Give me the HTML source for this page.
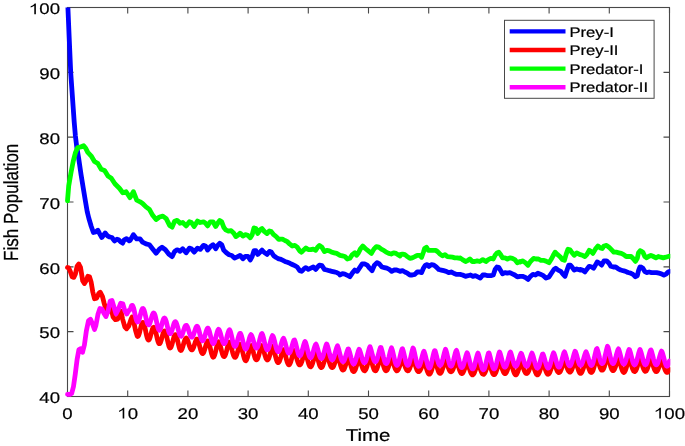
<!DOCTYPE html>
<html><head><meta charset="utf-8"><style>
html,body{margin:0;padding:0;background:#fff;width:685px;height:446px;overflow:hidden;font-family:"Liberation Sans",sans-serif;}
svg{display:block;will-change:transform;}
</style></head><body>
<svg width="685" height="446" viewBox="0 0 685 446">
<rect width="685" height="446" fill="#fff"/>
<path d="M67.50,396.5 v-6 M67.50,7.5 v6 M127.70,396.5 v-6 M127.70,7.5 v6 M187.90,396.5 v-6 M187.90,7.5 v6 M248.10,396.5 v-6 M248.10,7.5 v6 M308.30,396.5 v-6 M308.30,7.5 v6 M368.50,396.5 v-6 M368.50,7.5 v6 M428.70,396.5 v-6 M428.70,7.5 v6 M488.90,396.5 v-6 M488.90,7.5 v6 M549.10,396.5 v-6 M549.10,7.5 v6 M609.30,396.5 v-6 M609.30,7.5 v6 M669.50,396.5 v-6 M669.50,7.5 v6 M67.5,396.50 h6 M669.5,396.50 h-6 M67.5,331.67 h6 M669.5,331.67 h-6 M67.5,266.83 h6 M669.5,266.83 h-6 M67.5,202.00 h6 M669.5,202.00 h-6 M67.5,137.17 h6 M669.5,137.17 h-6 M67.5,72.33 h6 M669.5,72.33 h-6 M67.5,7.50 h6 M669.5,7.50 h-6" stroke="#484848" stroke-width="1.1" fill="none"/>
<rect x="67.5" y="7.5" width="602.0" height="389.0" fill="none" stroke="#484848" stroke-width="1.1"/>
<defs><clipPath id="c"><rect x="0" y="7.5" width="670.3" height="440"/></clipPath></defs>
<g clip-path="url(#c)" fill="none" stroke-linejoin="round" stroke-linecap="round">
<path d="M67.9,7.5 L69.2,37.8 L70.7,72.4 L73.0,105.0 L74.2,122.0 L75.4,136.0 L76.7,146.5 L78.8,159.1 L81.1,174.8 L83.3,188.3 L85.5,201.7 L87.2,211.7 L88.9,218.5 L91.2,226.3 L93.4,232.5 L95.7,231.9 L97.9,230.2 L99.6,233.6 L101.8,237.5 L103.5,235.3 L105.2,233.0 L107.4,235.8 L109.7,237.0 L111.9,237.5 L114.4,240.9 L117.0,239.2 L118.6,239.8 L120.9,242.0 L122.6,243.1 L124.2,239.8 L126.5,238.6 L129.3,240.9 L130.0,240.6 L133.4,234.7 L136.7,238.9 L140.1,238.9 L142.6,242.2 L146.0,243.9 L149.4,244.8 L152.7,249.0 L156.1,253.2 L159.5,249.0 L162.0,247.3 L165.4,249.8 L168.7,254.0 L172.1,256.6 L174.6,251.5 L177.1,249.8 L179.9,250.7 L180.0,251.4 L182.7,248.7 L186.1,252.8 L189.4,248.1 L191.4,248.7 L194.1,252.1 L197.5,248.1 L200.2,249.4 L203.5,245.4 L205.6,246.0 L207.6,250.1 L210.3,246.7 L213.0,244.7 L215.7,248.7 L217.7,245.4 L219.7,243.3 L221.7,244.7 L223.7,250.1 L226.4,252.8 L229.1,254.8 L231.8,255.5 L234.5,258.1 L237.2,256.8 L240.0,255.5 L240.5,255.7 L242.9,258.8 L245.4,256.3 L247.9,256.3 L250.3,260.0 L252.2,256.3 L254.0,250.7 L255.9,250.7 L257.7,254.4 L260.2,252.0 L262.0,250.1 L264.5,252.6 L267.0,254.4 L269.4,251.4 L271.3,252.0 L273.7,255.7 L276.2,257.5 L278.7,258.9 L279.9,259.0 L280.0,259.0 L282.5,260.2 L284.9,261.4 L287.4,262.3 L289.9,263.3 L292.3,264.5 L294.8,265.7 L297.2,267.0 L299.7,270.7 L301.6,271.3 L304.0,268.8 L305.9,267.6 L308.3,269.4 L310.8,268.2 L313.3,267.0 L315.7,269.4 L317.6,267.0 L319.4,265.1 L321.9,265.7 L324.4,269.4 L326.8,270.0 L329.3,270.7 L331.7,271.3 L334.2,271.9 L336.7,272.5 L340.0,274.4 L340.1,275.0 L342.5,273.7 L344.9,274.1 L347.4,275.3 L349.9,276.8 L352.3,273.1 L354.8,270.0 L357.2,271.3 L359.7,267.6 L362.2,263.9 L364.6,263.9 L367.1,265.1 L369.6,268.2 L372.0,270.7 L374.5,265.1 L377.0,262.6 L379.4,263.9 L381.9,267.0 L384.4,267.6 L386.8,268.2 L389.3,269.4 L391.7,271.3 L394.2,270.0 L396.7,270.0 L400.0,271.3 L400.1,271.3 L402.5,270.7 L404.9,272.0 L407.4,273.2 L409.9,275.0 L412.3,275.0 L414.8,274.4 L417.2,272.0 L419.7,272.0 L421.6,272.6 L423.4,268.3 L425.3,265.2 L427.1,264.6 L429.0,266.4 L431.4,264.6 L433.9,265.2 L436.3,267.0 L438.8,269.5 L441.3,270.1 L443.7,270.7 L446.2,271.3 L448.7,272.6 L451.1,272.0 L453.6,273.2 L456.7,274.4 L460.0,274.4 L460.1,274.4 L462.5,275.0 L465.5,276.3 L468.0,275.7 L470.5,275.0 L472.9,276.3 L475.4,275.7 L477.9,276.9 L480.3,278.1 L482.8,275.0 L485.3,275.0 L487.7,275.7 L490.8,275.7 L493.3,275.0 L495.1,269.5 L497.0,267.0 L498.8,267.3 L500.7,270.7 L502.5,273.8 L505.0,272.6 L507.4,273.2 L509.9,272.6 L512.4,273.8 L514.8,275.0 L517.3,276.9 L520.0,276.3 L520.1,276.3 L522.5,276.3 L525.5,277.5 L528.0,279.4 L530.5,276.3 L532.9,274.4 L535.4,275.0 L537.9,273.2 L540.3,274.2 L543.4,275.7 L545.9,278.1 L549.0,276.9 L551.4,273.2 L553.9,269.5 L555.7,268.3 L558.2,270.1 L560.7,271.3 L563.1,274.4 L565.0,276.3 L566.8,270.7 L568.7,265.2 L570.5,265.2 L572.4,267.6 L574.2,270.1 L576.7,268.9 L580.0,270.1 L580.1,269.4 L582.5,270.0 L584.9,271.9 L586.8,269.4 L589.2,266.3 L591.7,267.0 L593.6,268.2 L595.4,265.1 L597.2,262.0 L599.7,263.3 L601.6,265.1 L604.0,260.8 L606.5,260.8 L609.0,263.3 L610.8,266.3 L613.3,267.0 L615.7,267.0 L618.2,268.8 L620.7,270.0 L623.1,270.7 L625.6,271.3 L628.0,272.5 L630.5,273.1 L633.0,274.4 L635.4,276.8 L637.3,275.6 L638.5,270.7 L640.0,267.0 L640.1,267.2 L641.0,267.0 L642.9,268.3 L644.8,271.4 L646.6,272.6 L649.1,272.0 L651.5,272.6 L654.0,272.6 L656.5,272.6 L659.0,273.2 L661.4,273.8 L663.9,275.1 L666.4,273.8 L668.2,272.0 L669.6,271.4" stroke="#0000ff" stroke-width="4.8"/>
<path d="M67.5,267.5 L68.7,267.9 L70.4,271.8 L72.1,276.8 L73.8,277.4 L75.4,274.0 L77.1,266.2 L78.8,264.0 L80.5,267.3 L81.6,274.0 L82.7,280.8 L84.4,283.6 L86.1,280.8 L87.8,276.3 L89.5,276.8 L91.1,281.9 L92.8,292.0 L94.5,298.7 L96.7,298.1 L99.0,293.1 L100.2,292.2 L102.5,296.7 L104.2,303.4 L105.8,309.0 L107.5,312.0 L109.5,310.0 L111.0,308.0 L113.1,316.9 L115.4,319.7 L117.6,319.1 L119.8,314.6 L121.0,311.3 L122.6,319.1 L124.9,327.0 L126.6,328.7 L128.8,326.0 L131.1,319.1 L132.2,316.9 L133.9,322.5 L135.5,330.3 L137.2,336.0 L137.7,336.5 L138.2,336.2 L138.7,335.3 L139.2,333.8 L139.7,331.9 L140.2,329.8 L140.7,327.7 L141.2,325.7 L141.7,324.1 L142.2,322.9 L142.7,322.4 L143.2,322.5 L143.7,323.3 L144.2,324.7 L144.7,326.6 L145.2,328.8 L145.7,331.3 L146.2,333.7 L146.7,335.9 L147.2,337.8 L147.7,339.2 L148.2,339.9 L148.7,340.1 L149.2,339.6 L149.7,338.5 L150.2,337.0 L150.7,335.2 L151.2,333.3 L151.7,331.4 L152.2,329.7 L152.7,328.4 L153.2,327.6 L153.7,327.3 L154.2,327.6 L154.7,328.5 L155.2,330.0 L155.7,331.9 L156.2,334.0 L156.7,336.3 L157.2,338.5 L157.7,340.5 L158.2,342.1 L158.7,343.2 L159.2,343.7 L159.7,343.6 L160.2,343.0 L160.7,341.8 L161.2,340.3 L161.7,338.4 L162.2,336.5 L162.7,334.6 L163.2,333.0 L163.7,331.8 L164.2,331.1 L164.7,330.9 L165.2,331.6 L165.7,332.8 L166.2,334.5 L166.7,336.6 L167.2,338.9 L167.7,341.3 L168.2,343.5 L168.7,345.4 L169.2,346.9 L169.7,347.8 L170.2,348.0 L170.7,347.7 L171.2,346.7 L171.7,345.3 L172.2,343.5 L172.7,341.6 L173.2,339.6 L173.7,337.8 L174.2,336.3 L174.7,335.2 L175.2,334.6 L175.7,334.8 L176.2,335.7 L176.7,337.1 L177.2,339.0 L177.7,341.1 L178.2,343.3 L178.7,345.5 L179.2,347.4 L179.7,349.0 L180.2,350.1 L180.7,350.5 L181.2,350.4 L181.7,349.7 L182.2,348.5 L182.7,347.0 L183.2,345.3 L183.7,343.5 L184.2,341.8 L184.7,340.4 L185.2,339.2 L185.7,338.4 L186.2,338.0 L186.7,338.4 L187.2,339.2 L187.7,340.5 L188.2,341.9 L188.7,343.6 L189.2,345.2 L189.7,346.7 L190.2,348.0 L190.7,348.9 L191.2,349.6 L191.7,349.9 L192.2,349.8 L192.7,349.3 L193.2,348.3 L193.7,347.1 L194.2,345.6 L194.7,344.0 L195.2,342.4 L195.7,341.0 L196.2,339.9 L196.7,339.2 L197.2,339.1 L197.7,339.8 L198.2,341.0 L198.7,342.5 L199.2,344.4 L199.7,346.3 L200.2,348.2 L200.7,350.0 L201.2,351.6 L201.7,352.7 L202.2,353.4 L202.7,353.6 L203.2,353.2 L203.7,352.4 L204.2,351.1 L204.7,349.5 L205.2,347.8 L205.7,346.0 L206.2,344.3 L206.7,342.8 L207.2,341.6 L207.7,340.9 L208.2,341.2 L208.7,342.3 L209.2,343.8 L209.7,345.7 L210.2,347.8 L210.7,350.0 L211.2,352.1 L211.7,354.1 L212.2,355.6 L212.7,356.7 L213.2,357.2 L213.7,356.9 L214.2,356.1 L214.7,354.8 L215.2,353.0 L215.7,351.1 L216.2,349.0 L216.7,346.9 L217.2,345.1 L217.7,343.5 L218.2,342.4 L218.7,341.7 L219.2,342.6 L219.7,343.8 L220.2,345.5 L220.7,347.3 L221.2,349.4 L221.7,351.4 L222.2,353.2 L222.7,354.7 L223.2,355.8 L223.7,356.5 L224.2,356.6 L224.7,356.2 L225.2,355.3 L225.7,353.9 L226.2,352.2 L226.7,350.3 L227.2,348.3 L227.7,346.4 L228.2,344.6 L228.7,343.1 L229.2,342.1 L229.7,342.2 L230.2,343.3 L230.7,344.9 L231.2,346.7 L231.7,348.7 L232.2,350.8 L232.7,352.7 L233.2,354.4 L233.7,355.8 L234.2,356.7 L234.7,357.2 L235.2,357.3 L235.7,356.9 L236.2,356.0 L236.7,354.7 L237.2,353.1 L237.7,351.3 L238.2,349.6 L238.7,347.8 L239.2,346.3 L239.7,345.2 L240.2,344.3 L240.7,345.1 L241.2,346.4 L241.7,348.1 L242.2,350.1 L242.7,352.2 L243.2,354.3 L243.7,356.4 L244.2,358.1 L244.7,359.5 L245.2,360.5 L245.7,360.8 L246.2,360.4 L246.7,359.5 L247.2,358.2 L247.7,356.5 L248.2,354.6 L248.7,352.5 L249.2,350.5 L249.7,348.7 L250.2,347.1 L250.7,345.9 L251.2,345.5 L251.7,346.6 L252.2,348.0 L252.7,349.8 L253.2,351.6 L253.7,353.6 L254.2,355.4 L254.7,357.1 L255.2,358.5 L255.7,359.4 L256.2,359.9 L256.7,359.9 L257.2,359.4 L257.7,358.4 L258.2,357.1 L258.7,355.5 L259.2,353.6 L259.7,351.7 L260.2,349.9 L260.7,348.2 L261.2,346.7 L261.7,345.6 L262.2,345.9 L262.7,347.2 L263.2,348.8 L263.7,350.6 L264.2,352.5 L264.7,354.4 L265.2,356.1 L265.7,357.6 L266.2,358.8 L266.7,359.6 L267.2,360.0 L267.7,359.9 L268.2,359.4 L268.7,358.5 L269.2,357.1 L269.7,355.5 L270.2,353.8 L270.7,351.9 L271.2,350.2 L271.7,348.5 L272.2,347.2 L272.7,346.2 L273.2,347.4 L273.7,349.0 L274.2,350.9 L274.7,353.0 L275.2,355.1 L275.7,357.1 L276.2,359.0 L276.7,360.6 L277.2,361.7 L277.7,362.5 L278.2,362.7 L278.7,362.4 L279.2,361.7 L279.7,360.6 L280.2,359.1 L280.7,357.5 L281.2,355.7 L281.7,353.9 L282.2,352.2 L282.7,350.8 L283.2,349.6 L283.7,349.6 L284.2,350.9 L284.7,352.6 L285.2,354.4 L285.7,356.4 L286.2,358.4 L286.7,360.3 L287.2,362.0 L287.7,363.3 L288.2,364.3 L288.7,364.8 L289.2,364.8 L289.7,364.3 L290.2,363.3 L290.7,362.0 L291.2,360.3 L291.7,358.5 L292.2,356.7 L292.7,354.9 L293.2,353.2 L293.7,351.7 L294.2,350.5 L294.7,351.3 L295.2,352.8 L295.7,354.5 L296.2,356.3 L296.7,358.2 L297.2,360.0 L297.7,361.6 L298.2,363.0 L298.7,364.1 L299.2,364.7 L299.7,364.9 L300.2,364.8 L300.7,364.2 L301.2,363.2 L301.7,361.9 L302.2,360.4 L302.7,358.7 L303.2,356.9 L303.7,355.2 L304.2,353.6 L304.7,352.1 L305.2,351.5 L305.7,352.9 L306.2,354.5 L306.7,356.4 L307.2,358.3 L307.7,360.3 L308.2,362.1 L308.7,363.8 L309.2,365.1 L309.7,366.1 L310.2,366.7 L310.7,366.8 L311.2,366.4 L311.7,365.6 L312.2,364.4 L312.7,362.9 L313.2,361.2 L313.7,359.4 L314.2,357.5 L314.7,355.7 L315.2,354.0 L315.7,352.6 L316.2,353.0 L316.7,354.6 L317.2,356.4 L317.7,358.3 L318.2,360.2 L318.7,362.1 L319.2,363.9 L319.7,365.4 L320.2,366.5 L320.7,367.3 L321.2,367.6 L321.7,367.5 L322.2,366.9 L322.7,365.9 L323.2,364.6 L323.7,363.1 L324.2,361.3 L324.7,359.5 L325.2,357.7 L325.7,356.0 L326.2,354.4 L326.7,353.0 L327.2,354.5 L327.7,356.1 L328.2,357.9 L328.7,359.8 L329.2,361.6 L329.7,363.3 L330.2,364.8 L330.7,366.0 L331.2,366.9 L331.7,367.5 L332.2,367.6 L332.7,367.5 L333.2,366.9 L333.7,366.0 L334.2,364.7 L334.7,363.2 L335.2,361.6 L335.7,359.8 L336.2,358.1 L336.7,356.4 L337.2,354.8 L337.7,354.5 L338.2,356.2 L338.7,358.1 L339.2,360.1 L339.7,362.1 L340.2,364.0 L340.7,365.8 L341.2,367.4 L341.7,368.6 L342.2,369.5 L342.7,370.0 L343.2,370.0 L343.7,369.7 L344.2,368.9 L344.7,367.8 L345.2,366.4 L345.7,364.7 L346.2,363.0 L346.7,361.1 L347.2,359.3 L347.7,357.6 L348.2,356.0 L348.7,357.1 L349.2,358.9 L349.7,360.9 L350.2,362.9 L350.7,364.8 L351.2,366.7 L351.7,368.4 L352.2,369.8 L352.7,370.9 L353.2,371.4 L353.7,371.6 L354.2,371.4 L354.7,370.7 L355.2,369.8 L355.7,368.5 L356.2,366.9 L356.7,365.3 L357.2,363.5 L357.7,361.8 L358.2,360.1 L358.7,358.5 L359.2,357.5 L359.7,358.9 L360.2,360.5 L360.7,362.2 L361.2,363.9 L361.7,365.6 L362.2,367.1 L362.7,368.5 L363.2,369.5 L363.7,370.3 L364.2,370.7 L364.7,370.8 L365.2,370.4 L365.7,369.7 L366.2,368.6 L366.7,367.2 L367.2,365.5 L367.7,363.7 L368.2,361.8 L368.7,359.8 L369.2,357.9 L369.7,356.1 L370.2,356.2 L370.7,358.0 L371.2,360.0 L371.7,361.9 L372.2,363.8 L372.7,365.7 L373.2,367.3 L373.7,368.7 L374.2,369.8 L374.7,370.5 L375.2,370.8 L375.7,370.7 L376.2,370.2 L376.7,369.3 L377.2,368.1 L377.7,366.6 L378.2,364.9 L378.7,363.1 L379.2,361.3 L379.7,359.5 L380.2,357.8 L380.7,356.2 L381.2,357.7 L381.7,359.5 L382.2,361.3 L382.7,363.2 L383.2,364.9 L383.7,366.6 L384.2,368.1 L384.7,369.3 L385.2,370.1 L385.7,370.7 L386.2,370.8 L386.7,370.5 L387.2,369.9 L387.7,368.9 L388.2,367.7 L388.7,366.2 L389.2,364.6 L389.7,362.9 L390.2,361.2 L390.7,359.5 L391.2,358.0 L391.7,357.6 L392.2,359.2 L392.7,360.8 L393.2,362.6 L393.7,364.3 L394.2,365.9 L394.7,367.4 L395.2,368.7 L395.7,369.7 L396.2,370.4 L396.7,370.8 L397.2,370.7 L397.7,370.4 L398.2,369.7 L398.7,368.6 L399.2,367.4 L399.7,365.9 L400.2,364.4 L400.7,362.8 L401.2,361.2 L401.7,359.7 L402.2,358.3 L402.7,359.0 L403.2,360.5 L403.7,362.1 L404.2,363.7 L404.7,365.3 L405.2,366.8 L405.7,368.1 L406.2,369.2 L406.7,370.1 L407.2,370.6 L407.7,370.8 L408.2,370.7 L408.7,370.2 L409.2,369.4 L409.7,368.4 L410.2,367.0 L410.7,365.6 L411.2,364.0 L411.7,362.3 L412.2,360.7 L412.7,359.2 L413.2,358.2 L413.7,359.7 L414.2,361.4 L414.7,363.1 L415.2,364.9 L415.7,366.5 L416.2,368.0 L416.7,369.3 L417.2,370.4 L417.7,371.1 L418.2,371.6 L418.7,371.7 L419.2,371.5 L419.7,371.1 L420.2,370.3 L420.7,369.3 L421.2,368.1 L421.7,366.7 L422.2,365.3 L422.7,363.9 L423.2,362.5 L423.7,361.2 L424.2,361.4 L424.7,362.8 L425.2,364.3 L425.7,365.9 L426.2,367.6 L426.7,369.2 L427.2,370.8 L427.7,372.1 L428.2,373.2 L428.7,374.0 L429.2,374.2 L429.7,374.1 L430.2,373.6 L430.7,372.7 L431.2,371.5 L431.7,370.0 L432.2,368.2 L432.7,366.4 L433.2,364.4 L433.7,362.5 L434.2,360.7 L434.7,359.0 L435.2,360.4 L435.7,362.1 L436.2,364.0 L436.7,365.8 L437.2,367.6 L437.7,369.3 L438.2,370.8 L438.7,372.0 L439.2,372.9 L439.7,373.4 L440.2,373.4 L440.7,373.1 L441.2,372.4 L441.7,371.4 L442.2,370.0 L442.7,368.5 L443.2,366.8 L443.7,365.0 L444.2,363.2 L444.7,361.5 L445.2,359.9 L445.7,359.4 L446.2,360.9 L446.7,362.5 L447.2,364.2 L447.7,365.8 L448.2,367.4 L448.7,368.7 L449.2,369.9 L449.7,370.8 L450.2,371.4 L450.7,371.7 L451.2,371.8 L451.7,371.5 L452.2,370.9 L452.7,370.0 L453.2,368.9 L453.7,367.5 L454.2,366.1 L454.7,364.5 L455.2,363.0 L455.7,361.5 L456.2,360.1 L456.7,360.8 L457.2,362.3 L457.7,364.0 L458.2,365.7 L458.7,367.4 L459.2,369.0 L459.7,370.4 L460.2,371.7 L460.7,372.6 L461.2,373.3 L461.7,373.5 L462.2,373.5 L462.7,373.0 L463.2,372.3 L463.7,371.3 L464.2,370.0 L464.7,368.6 L465.2,367.1 L465.7,365.6 L466.2,364.1 L466.7,362.7 L467.2,361.7 L467.7,363.1 L468.2,364.7 L468.7,366.3 L469.2,368.0 L469.7,369.6 L470.2,371.1 L470.7,372.4 L471.2,373.5 L471.7,374.3 L472.2,374.8 L472.7,374.9 L473.2,374.5 L473.7,373.9 L474.2,373.0 L474.7,371.8 L475.2,370.4 L475.7,369.0 L476.2,367.4 L476.7,365.9 L477.2,364.4 L477.7,363.1 L478.2,363.1 L478.7,364.4 L479.2,365.9 L479.7,367.4 L480.2,368.8 L480.7,370.2 L481.2,371.5 L481.7,372.6 L482.2,373.5 L482.7,374.0 L483.2,374.3 L483.7,374.3 L484.2,373.9 L484.7,373.2 L485.2,372.2 L485.7,371.0 L486.2,369.6 L486.7,368.0 L487.2,366.4 L487.7,364.8 L488.2,363.2 L488.7,361.8 L489.2,362.8 L489.7,364.3 L490.2,365.9 L490.7,367.6 L491.2,369.2 L491.7,370.8 L492.2,372.2 L492.7,373.4 L493.2,374.2 L493.7,374.6 L494.2,374.7 L494.7,374.4 L495.2,373.8 L495.7,372.8 L496.2,371.6 L496.7,370.1 L497.2,368.5 L497.7,366.8 L498.2,365.0 L498.7,363.4 L499.2,361.8 L499.7,361.1 L500.2,362.5 L500.7,364.1 L501.2,365.7 L501.7,367.3 L502.2,368.8 L502.7,370.2 L503.2,371.4 L503.7,372.4 L504.2,373.2 L504.7,373.6 L505.2,373.7 L505.7,373.4 L506.2,372.7 L506.7,371.7 L507.2,370.5 L507.7,369.0 L508.2,367.4 L508.7,365.7 L509.2,363.9 L509.7,362.3 L510.2,360.7 L510.7,361.2 L511.2,362.9 L511.7,364.7 L512.2,366.5 L512.7,368.3 L513.2,370.0 L513.7,371.6 L514.2,372.9 L514.7,373.9 L515.2,374.6 L515.7,374.9 L516.2,374.7 L516.7,374.1 L517.2,373.2 L517.7,372.0 L518.2,370.6 L518.7,369.1 L519.2,367.4 L519.7,365.8 L520.2,364.2 L520.7,362.7 L521.2,361.6 L521.7,363.0 L522.2,364.4 L522.7,366.0 L523.2,367.5 L523.7,369.0 L524.2,370.3 L524.7,371.5 L525.2,372.5 L525.7,373.1 L526.2,373.4 L526.7,373.5 L527.2,373.3 L527.7,372.8 L528.2,372.0 L528.7,370.9 L529.2,369.7 L529.7,368.2 L530.2,366.7 L530.7,365.2 L531.2,363.7 L531.7,362.2 L532.2,362.1 L532.7,363.6 L533.2,365.2 L533.7,366.8 L534.2,368.5 L534.7,370.0 L535.2,371.5 L535.7,372.8 L536.2,373.8 L536.7,374.5 L537.2,374.9 L537.7,374.8 L538.2,374.4 L538.7,373.6 L539.2,372.5 L539.7,371.3 L540.2,369.8 L540.7,368.2 L541.2,366.6 L541.7,365.0 L542.2,363.5 L542.7,362.2 L543.2,363.1 L543.7,364.5 L544.2,366.1 L544.7,367.6 L545.2,369.1 L545.7,370.6 L546.2,371.8 L546.7,372.9 L547.2,373.7 L547.7,374.2 L548.2,374.3 L548.7,374.0 L549.2,373.4 L549.7,372.5 L550.2,371.3 L550.7,369.9 L551.2,368.4 L551.7,366.8 L552.2,365.2 L552.7,363.6 L553.2,362.1 L553.7,361.4 L554.2,362.7 L554.7,364.1 L555.2,365.6 L555.7,367.1 L556.2,368.5 L556.7,369.8 L557.2,370.9 L557.7,371.7 L558.2,372.3 L558.7,372.6 L559.2,372.5 L559.7,372.2 L560.2,371.6 L560.7,370.6 L561.2,369.5 L561.7,368.1 L562.2,366.6 L562.7,365.1 L563.2,363.5 L563.7,362.1 L564.2,360.7 L564.7,361.0 L565.2,362.3 L565.7,363.8 L566.2,365.2 L566.7,366.7 L567.2,368.1 L567.7,369.4 L568.2,370.4 L568.7,371.2 L569.2,371.8 L569.7,372.1 L570.2,372.1 L570.7,371.7 L571.2,371.0 L571.7,370.0 L572.2,368.7 L572.7,367.3 L573.2,365.7 L573.7,364.1 L574.2,362.4 L574.7,360.8 L575.2,359.4 L575.7,360.9 L576.2,362.6 L576.7,364.3 L577.2,366.1 L577.7,367.8 L578.2,369.4 L578.7,370.9 L579.2,372.1 L579.7,372.9 L580.2,373.3 L580.7,373.4 L581.2,373.1 L581.7,372.4 L582.2,371.4 L582.7,370.2 L583.2,368.8 L583.7,367.2 L584.2,365.6 L584.7,363.9 L585.2,362.4 L585.7,360.9 L586.2,360.7 L586.7,362.1 L587.2,363.5 L587.7,365.0 L588.2,366.5 L588.7,368.0 L589.2,369.4 L589.7,370.6 L590.2,371.6 L590.7,372.2 L591.2,372.5 L591.7,372.4 L592.2,371.9 L592.7,371.0 L593.2,369.8 L593.7,368.2 L594.2,366.5 L594.7,364.6 L595.2,362.6 L595.7,360.7 L596.2,358.8 L596.7,357.0 L597.2,357.8 L597.7,359.4 L598.2,361.2 L598.7,362.9 L599.2,364.6 L599.7,366.2 L600.2,367.7 L600.7,368.8 L601.2,369.7 L601.7,370.2 L602.2,370.2 L602.7,370.0 L603.2,369.4 L603.7,368.5 L604.2,367.2 L604.7,365.6 L605.2,363.8 L605.7,361.9 L606.2,359.9 L606.7,357.9 L607.2,356.0 L607.7,354.8 L608.2,356.7 L608.7,358.7 L609.2,360.7 L609.7,362.8 L610.2,364.7 L610.7,366.5 L611.2,368.0 L611.7,369.3 L612.2,370.1 L612.7,370.6 L613.2,370.7 L613.7,370.4 L614.2,369.7 L614.7,368.7 L615.2,367.4 L615.7,365.9 L616.2,364.3 L616.7,362.6 L617.2,360.9 L617.7,359.2 L618.2,357.7 L618.7,358.1 L619.2,359.8 L619.7,361.6 L620.2,363.4 L620.7,365.3 L621.2,367.1 L621.7,368.8 L622.2,370.2 L622.7,371.3 L623.2,372.1 L623.7,372.5 L624.2,372.3 L624.7,371.8 L625.2,370.8 L625.7,369.6 L626.2,368.0 L626.7,366.3 L627.2,364.5 L627.7,362.6 L628.2,360.8 L628.7,359.1 L629.2,357.5 L629.7,359.1 L630.2,360.8 L630.7,362.5 L631.2,364.3 L631.7,366.1 L632.2,367.7 L632.7,369.1 L633.2,370.2 L633.7,371.1 L634.2,371.5 L634.7,371.6 L635.2,371.3 L635.7,370.7 L636.2,369.7 L636.7,368.5 L637.2,367.0 L637.7,365.4 L638.2,363.7 L638.7,362.0 L639.2,360.3 L639.7,358.8 L640.2,358.4 L640.7,359.9 L641.2,361.6 L641.7,363.3 L642.2,364.9 L642.7,366.6 L643.2,368.0 L643.7,369.3 L644.2,370.3 L644.7,370.9 L645.2,371.3 L645.7,371.2 L646.2,370.9 L646.7,370.1 L647.2,369.1 L647.7,367.8 L648.2,366.3 L648.7,364.7 L649.2,363.0 L649.7,361.3 L650.2,359.7 L650.7,358.2 L651.2,359.1 L651.7,360.7 L652.2,362.4 L652.7,364.1 L653.2,365.8 L653.7,367.4 L654.2,368.8 L654.7,370.0 L655.2,370.8 L655.7,371.4 L656.2,371.6 L656.7,371.5 L657.2,371.0 L657.7,370.2 L658.2,369.1 L658.7,367.9 L659.2,366.4 L659.7,364.9 L660.2,363.3 L660.7,361.8 L661.2,360.4 L661.7,359.5 L662.2,360.9 L662.7,362.4 L663.2,364.0 L663.7,365.7 L664.2,367.3 L664.7,368.8 L665.2,370.1 L665.7,371.1 L666.2,371.9 L666.7,372.3 L667.2,372.4 L667.7,372.2 L668.2,371.5 L668.7,370.6 L669.2,369.3" stroke="#ff0000" stroke-width="4.8"/>
<path d="M67.5,200.8 L68.7,186.0 L71.0,172.6 L73.2,161.4 L75.5,152.4 L77.7,147.5 L81.1,146.8 L83.7,145.7 L85.5,147.9 L87.8,152.4 L91.1,155.8 L94.5,161.4 L97.9,163.6 L101.2,169.2 L104.6,170.4 L108.0,176.0 L111.3,178.2 L114.9,183.8 L119.4,188.3 L122.8,192.8 L126.1,191.7 L130.0,197.6 L133.4,191.7 L136.7,200.2 L140.1,201.8 L142.6,203.5 L146.0,206.9 L149.4,209.4 L152.7,215.3 L156.1,219.5 L159.5,217.0 L162.8,216.1 L166.2,218.7 L169.6,225.4 L172.1,227.1 L174.6,221.2 L177.1,220.4 L179.9,222.9 L180.0,223.2 L182.7,222.5 L186.1,225.9 L189.4,221.8 L191.4,222.5 L194.1,226.5 L197.5,221.1 L200.2,222.5 L203.5,221.8 L205.6,223.2 L207.6,225.9 L210.3,221.8 L213.0,221.8 L215.7,226.5 L217.7,223.2 L219.7,220.5 L221.7,221.8 L223.7,227.2 L225.7,229.9 L228.4,231.2 L231.1,230.6 L233.8,233.3 L235.8,236.6 L237.9,235.3 L240.0,233.3 L240.5,233.5 L242.9,236.0 L245.4,234.7 L247.9,235.3 L250.3,237.8 L252.2,234.7 L254.0,227.9 L255.9,228.6 L257.7,233.5 L260.2,229.8 L262.0,228.6 L264.5,231.6 L267.0,233.5 L269.4,231.0 L271.3,231.6 L273.7,234.7 L276.2,236.6 L278.7,239.3 L279.9,239.3 L280.0,239.2 L282.5,239.2 L284.9,240.5 L287.4,241.7 L289.9,244.2 L292.3,246.0 L294.8,245.4 L297.2,247.2 L299.7,250.9 L301.6,252.2 L304.0,249.7 L305.9,247.9 L308.3,249.7 L310.8,249.7 L313.3,249.1 L315.7,250.3 L317.6,247.2 L319.4,245.4 L321.9,247.2 L324.4,251.6 L326.8,250.3 L329.3,250.9 L331.7,252.2 L334.2,252.8 L336.7,253.4 L340.0,255.3 L340.1,255.3 L342.5,255.9 L344.9,256.5 L347.4,259.0 L349.9,258.3 L352.3,254.6 L354.8,252.8 L356.6,255.3 L358.5,252.8 L360.3,249.1 L362.8,246.0 L365.3,248.5 L368.3,250.9 L371.4,253.4 L373.9,249.1 L376.3,246.6 L378.8,247.2 L381.3,249.1 L383.7,250.3 L386.2,252.2 L388.7,253.4 L391.1,254.0 L393.6,252.8 L396.1,253.4 L400.0,255.9 L400.1,254.7 L402.5,254.1 L404.9,254.7 L407.4,256.6 L409.9,258.4 L412.3,257.8 L414.8,256.6 L417.2,255.3 L419.7,255.3 L421.6,257.2 L423.4,252.2 L424.6,248.6 L426.5,247.3 L428.3,250.4 L430.8,250.4 L433.3,250.4 L435.7,250.4 L437.6,251.6 L440.0,254.1 L442.5,255.9 L445.0,254.7 L447.4,256.6 L449.9,256.9 L452.4,257.2 L454.8,257.8 L457.3,257.8 L460.0,258.4 L460.1,257.8 L462.5,259.6 L465.5,261.5 L468.0,260.3 L469.9,259.0 L472.3,261.5 L474.8,261.5 L477.2,260.9 L479.7,261.5 L482.8,259.6 L485.9,261.5 L488.3,259.6 L490.8,258.4 L493.3,259.0 L495.1,255.3 L497.0,252.9 L498.8,252.2 L500.7,254.7 L502.5,257.8 L505.0,257.8 L507.4,259.0 L509.9,257.8 L512.4,258.4 L514.8,259.6 L517.3,262.7 L520.0,261.5 L520.1,262.1 L522.5,260.9 L525.5,262.7 L528.0,265.2 L530.5,261.5 L533.6,258.4 L536.0,259.0 L538.5,259.0 L540.9,260.3 L543.4,260.3 L545.9,261.1 L549.0,262.7 L551.4,259.0 L553.3,255.3 L555.1,252.2 L557.6,254.7 L560.0,256.6 L562.5,259.6 L564.4,260.3 L566.2,254.1 L568.0,249.2 L569.9,249.8 L571.7,252.2 L574.2,255.3 L576.7,252.9 L580.0,254.7 L580.1,254.6 L582.5,255.3 L584.9,256.5 L586.8,254.6 L589.2,250.3 L591.1,251.6 L592.9,253.4 L595.4,249.1 L597.9,246.0 L600.3,247.9 L602.2,248.5 L604.0,246.0 L606.5,245.4 L609.0,247.2 L611.4,249.7 L613.9,252.2 L616.3,252.2 L618.8,252.8 L621.3,253.4 L623.7,254.6 L626.2,256.5 L628.7,256.5 L631.1,256.5 L633.6,259.0 L635.4,261.4 L637.3,258.3 L638.5,252.8 L640.0,250.9 L640.1,251.1 L641.0,251.0 L642.9,252.2 L644.8,256.5 L646.6,257.8 L648.5,256.5 L650.9,255.3 L653.4,256.5 L655.9,257.8 L658.3,256.5 L660.8,257.2 L663.3,257.8 L665.7,257.2 L668.2,256.5 L669.6,256.2" stroke="#00ff00" stroke-width="4.8"/>
<path d="M67.5,394.3 L70.0,394.3 L71.7,393.4 L73.5,386.5 L75.3,373.9 L77.1,359.5 L78.9,349.6 L80.7,348.7 L82.5,352.3 L84.4,345.0 L86.4,330.7 L88.5,320.7 L90.5,319.3 L92.5,324.0 L94.5,329.4 L95.9,325.4 L97.9,314.6 L99.9,308.5 L101.9,309.0 L103.9,313.3 L105.9,316.6 L108.0,311.2 L110.2,301.1 L112.0,300.5 L114.0,307.2 L116.0,313.9 L118.1,309.9 L120.7,303.2 L122.8,303.8 L124.8,310.6 L126.8,313.9 L128.8,310.6 L130.5,309.1 L131.0,307.2 L131.5,305.9 L132.0,305.3 L132.5,305.4 L133.0,306.3 L133.5,307.7 L134.0,309.7 L134.5,311.9 L135.0,314.3 L135.5,316.6 L136.0,318.7 L136.5,320.3 L137.0,321.4 L137.5,322.0 L138.0,321.9 L138.5,321.3 L139.0,320.1 L139.5,318.4 L140.0,316.5 L140.5,314.4 L141.0,312.5 L141.5,310.7 L142.0,309.4 L142.5,308.6 L143.0,308.5 L143.5,309.0 L144.0,310.0 L144.5,311.6 L145.0,313.6 L145.5,315.8 L146.0,318.1 L146.5,320.2 L147.0,322.1 L147.5,323.5 L148.0,324.4 L148.5,324.9 L149.0,324.8 L149.5,324.1 L150.0,322.9 L150.5,321.3 L151.0,319.5 L151.5,317.7 L152.0,316.0 L152.5,314.5 L153.0,313.5 L153.5,313.0 L154.0,313.2 L154.5,313.9 L155.0,315.2 L155.5,317.0 L156.0,319.2 L156.5,321.5 L157.0,323.8 L157.5,326.0 L158.0,327.9 L158.5,329.2 L159.0,330.0 L159.5,330.2 L160.0,329.7 L160.5,328.7 L161.0,327.3 L161.5,325.6 L162.0,323.8 L162.5,322.0 L163.0,320.4 L163.5,319.1 L164.0,318.3 L164.5,318.0 L165.0,318.4 L165.5,319.3 L166.0,320.7 L166.5,322.5 L167.0,324.6 L167.5,326.8 L168.0,328.8 L168.5,330.7 L169.0,332.2 L169.5,333.3 L170.0,333.7 L170.5,333.6 L171.0,332.9 L171.5,331.8 L172.0,330.3 L172.5,328.6 L173.0,326.8 L173.5,325.1 L174.0,323.6 L174.5,322.5 L175.0,321.8 L175.5,321.7 L176.0,322.3 L176.5,323.4 L177.0,324.9 L177.5,326.7 L178.0,328.7 L178.5,330.7 L179.0,332.5 L179.5,334.1 L180.0,335.3 L180.5,336.0 L181.0,336.3 L181.5,335.9 L182.0,335.1 L182.5,333.8 L183.0,332.4 L183.5,330.8 L184.0,329.2 L184.5,327.7 L185.0,326.5 L185.5,325.7 L186.0,325.3 L186.5,325.4 L187.0,326.1 L187.5,327.1 L188.0,328.4 L188.5,330.0 L189.0,331.6 L189.5,333.3 L190.0,334.7 L190.5,335.9 L191.0,336.7 L191.5,337.1 L192.0,337.1 L192.5,336.7 L193.0,335.9 L193.5,334.8 L194.0,333.3 L194.5,331.8 L195.0,330.2 L195.5,328.7 L196.0,327.5 L196.5,326.6 L197.0,326.2 L197.5,326.6 L198.0,327.6 L198.5,329.0 L199.0,330.7 L199.5,332.6 L200.0,334.6 L200.5,336.5 L201.0,338.1 L201.5,339.5 L202.0,340.4 L202.5,340.8 L203.0,340.6 L203.5,339.9 L204.0,338.7 L204.5,337.2 L205.0,335.5 L205.5,333.6 L206.0,331.9 L206.5,330.3 L207.0,329.1 L207.5,328.3 L208.0,328.1 L208.5,328.9 L209.0,330.1 L209.5,331.8 L210.0,333.8 L210.5,335.9 L211.0,338.0 L211.5,340.0 L212.0,341.6 L212.5,342.9 L213.0,343.6 L213.5,343.6 L214.0,343.1 L214.5,342.0 L215.0,340.4 L215.5,338.6 L216.0,336.6 L216.5,334.6 L217.0,332.8 L217.5,331.2 L218.0,330.0 L218.5,329.3 L219.0,329.6 L219.5,330.6 L220.0,332.0 L220.5,333.7 L221.0,335.6 L221.5,337.6 L222.0,339.5 L222.5,341.2 L223.0,342.5 L223.5,343.4 L224.0,343.7 L224.5,343.7 L225.0,343.0 L225.5,341.9 L226.0,340.4 L226.5,338.6 L227.0,336.6 L227.5,334.7 L228.0,332.9 L228.5,331.4 L229.0,330.3 L229.5,329.7 L230.0,330.5 L230.5,331.9 L231.0,333.7 L231.5,335.8 L232.0,338.0 L232.5,340.2 L233.0,342.3 L233.5,344.1 L234.0,345.4 L234.5,346.2 L235.0,346.5 L235.5,346.2 L236.0,345.3 L236.5,344.0 L237.0,342.4 L237.5,340.6 L238.0,338.7 L238.5,336.9 L239.0,335.3 L239.5,334.1 L240.0,333.3 L240.5,333.4 L241.0,334.5 L241.5,336.0 L242.0,337.8 L242.5,339.8 L243.0,341.9 L243.5,344.0 L244.0,345.8 L244.5,347.4 L245.0,348.5 L245.5,349.1 L246.0,348.9 L246.5,348.3 L247.0,347.1 L247.5,345.5 L248.0,343.7 L248.5,341.8 L249.0,339.8 L249.5,338.0 L250.0,336.5 L250.5,335.3 L251.0,334.6 L251.5,335.2 L252.0,336.3 L252.5,337.7 L253.0,339.3 L253.5,341.2 L254.0,343.0 L254.5,344.7 L255.0,346.2 L255.5,347.4 L256.0,348.0 L256.5,348.2 L257.0,347.9 L257.5,347.2 L258.0,346.0 L258.5,344.5 L259.0,342.6 L259.5,340.7 L260.0,338.7 L260.5,336.8 L261.0,335.2 L261.5,334.0 L262.0,333.5 L262.5,334.5 L263.0,336.0 L263.5,337.9 L264.0,340.0 L264.5,342.2 L265.0,344.4 L265.5,346.3 L266.0,347.9 L266.5,349.1 L267.0,349.8 L267.5,349.9 L268.0,349.4 L268.5,348.5 L269.0,347.1 L269.5,345.4 L270.0,343.5 L270.5,341.5 L271.0,339.6 L271.5,337.9 L272.0,336.6 L272.5,335.6 L273.0,336.0 L273.5,337.3 L274.0,339.0 L274.5,340.9 L275.0,343.1 L275.5,345.2 L276.0,347.2 L276.5,348.9 L277.0,350.3 L277.5,351.3 L278.0,351.7 L278.5,351.6 L279.0,351.0 L279.5,349.9 L280.0,348.5 L280.5,346.8 L281.0,345.0 L281.5,343.2 L282.0,341.5 L282.5,340.1 L283.0,339.0 L283.5,338.3 L284.0,339.2 L284.5,340.6 L285.0,342.2 L285.5,344.1 L286.0,346.0 L286.5,347.9 L287.0,349.7 L287.5,351.2 L288.0,352.3 L288.5,353.0 L289.0,353.2 L289.5,352.9 L290.0,352.2 L290.5,351.1 L291.0,349.6 L291.5,347.9 L292.0,346.1 L292.5,344.3 L293.0,342.6 L293.5,341.2 L294.0,340.1 L294.5,340.0 L295.0,341.2 L295.5,342.8 L296.0,344.7 L296.5,346.8 L297.0,348.8 L297.5,350.9 L298.0,352.7 L298.5,354.2 L299.0,355.2 L299.5,355.8 L300.0,355.8 L300.5,355.3 L301.0,354.4 L301.5,353.0 L302.0,351.3 L302.5,349.4 L303.0,347.5 L303.5,345.7 L304.0,344.0 L304.5,342.6 L305.0,341.5 L305.5,342.3 L306.0,343.8 L306.5,345.6 L307.0,347.6 L307.5,349.7 L308.0,351.7 L308.5,353.6 L309.0,355.3 L309.5,356.6 L310.0,357.4 L310.5,357.7 L311.0,357.5 L311.5,356.8 L312.0,355.7 L312.5,354.2 L313.0,352.5 L313.5,350.7 L314.0,348.9 L314.5,347.2 L315.0,345.8 L315.5,344.6 L316.0,344.1 L316.5,345.3 L317.0,346.8 L317.5,348.4 L318.0,350.2 L318.5,352.1 L319.0,353.9 L319.5,355.6 L320.0,356.9 L320.5,357.9 L321.0,358.5 L321.5,358.6 L322.0,358.2 L322.5,357.3 L323.0,356.1 L323.5,354.5 L324.0,352.7 L324.5,350.8 L325.0,348.9 L325.5,347.0 L326.0,345.4 L326.5,344.1 L327.0,344.4 L327.5,345.9 L328.0,347.6 L328.5,349.6 L329.0,351.6 L329.5,353.7 L330.0,355.6 L330.5,357.2 L331.0,358.5 L331.5,359.4 L332.0,359.8 L332.5,359.7 L333.0,359.2 L333.5,358.2 L334.0,356.9 L334.5,355.3 L335.0,353.5 L335.5,351.7 L336.0,349.9 L336.5,348.3 L337.0,346.9 L337.5,345.8 L338.0,347.1 L338.5,348.7 L339.0,350.5 L339.5,352.5 L340.0,354.5 L340.5,356.4 L341.0,358.2 L341.5,359.6 L342.0,360.7 L342.5,361.4 L343.0,361.6 L343.5,361.4 L344.0,360.8 L344.5,359.7 L345.0,358.4 L345.5,356.8 L346.0,355.1 L346.5,353.4 L347.0,351.8 L347.5,350.3 L348.0,349.1 L348.5,348.9 L349.0,350.3 L349.5,351.9 L350.0,353.7 L350.5,355.6 L351.0,357.6 L351.5,359.4 L352.0,361.1 L352.5,362.4 L353.0,363.4 L353.5,364.0 L354.0,363.9 L354.5,363.3 L355.0,362.3 L355.5,360.9 L356.0,359.3 L356.5,357.5 L357.0,355.6 L357.5,353.8 L358.0,352.1 L358.5,350.6 L359.0,349.3 L359.5,349.8 L360.0,351.1 L360.5,352.7 L361.0,354.4 L361.5,356.2 L362.0,357.9 L362.5,359.5 L363.0,360.9 L363.5,361.9 L364.0,362.6 L364.5,362.7 L365.0,362.5 L365.5,361.7 L366.0,360.6 L366.5,359.0 L367.0,357.2 L367.5,355.2 L368.0,353.2 L368.5,351.2 L369.0,349.3 L369.5,347.6 L370.0,346.7 L370.5,348.0 L371.0,349.6 L371.5,351.5 L372.0,353.5 L372.5,355.5 L373.0,357.3 L373.5,359.0 L374.0,360.3 L374.5,361.3 L375.0,361.8 L375.5,361.8 L376.0,361.4 L376.5,360.6 L377.0,359.4 L377.5,357.9 L378.0,356.1 L378.5,354.2 L379.0,352.3 L379.5,350.5 L380.0,348.8 L380.5,347.4 L381.0,347.6 L381.5,349.1 L382.0,350.9 L382.5,352.9 L383.0,355.0 L383.5,357.1 L384.0,359.0 L384.5,360.8 L385.0,362.1 L385.5,363.1 L386.0,363.5 L386.5,363.5 L387.0,362.9 L387.5,361.9 L388.0,360.5 L388.5,358.7 L389.0,356.8 L389.5,354.7 L390.0,352.7 L390.5,350.8 L391.0,349.2 L391.5,347.8 L392.0,349.1 L392.5,350.8 L393.0,352.8 L393.5,355.0 L394.0,357.2 L394.5,359.3 L395.0,361.3 L395.5,363.0 L396.0,364.3 L396.5,365.1 L397.0,365.4 L397.5,365.0 L398.0,364.2 L398.5,362.8 L399.0,361.1 L399.5,359.1 L400.0,356.9 L400.5,354.7 L401.0,352.6 L401.5,350.7 L402.0,349.1 L402.5,348.7 L403.0,350.2 L403.5,352.0 L404.0,354.1 L404.5,356.2 L405.0,358.4 L405.5,360.5 L406.0,362.3 L406.5,363.8 L407.0,364.8 L407.5,365.3 L408.0,365.3 L408.5,364.8 L409.0,363.7 L409.5,362.2 L410.0,360.3 L410.5,358.2 L411.0,355.9 L411.5,353.7 L412.0,351.5 L412.5,349.6 L413.0,348.0 L413.5,348.8 L414.0,350.7 L414.5,352.8 L415.0,355.2 L415.5,357.5 L416.0,359.8 L416.5,361.9 L417.0,363.7 L417.5,365.1 L418.0,365.9 L418.5,366.3 L419.0,366.1 L419.5,365.5 L420.0,364.3 L420.5,362.8 L421.0,361.1 L421.5,359.1 L422.0,357.2 L422.5,355.3 L423.0,353.6 L423.5,352.1 L424.0,351.3 L424.5,352.7 L425.0,354.3 L425.5,356.2 L426.0,358.3 L426.5,360.4 L427.0,362.5 L427.5,364.4 L428.0,366.0 L428.5,367.2 L429.0,367.9 L429.5,368.0 L430.0,367.5 L430.5,366.4 L431.0,364.8 L431.5,362.9 L432.0,360.8 L432.5,358.5 L433.0,356.3 L433.5,354.1 L434.0,352.2 L434.5,350.6 L435.0,350.6 L435.5,352.1 L436.0,353.9 L436.5,355.8 L437.0,357.9 L437.5,359.8 L438.0,361.6 L438.5,363.2 L439.0,364.4 L439.5,365.1 L440.0,365.4 L440.5,365.3 L441.0,364.7 L441.5,363.7 L442.0,362.3 L442.5,360.5 L443.0,358.5 L443.5,356.4 L444.0,354.4 L444.5,352.4 L445.0,350.7 L445.5,349.2 L446.0,350.4 L446.5,352.1 L447.0,354.1 L447.5,356.2 L448.0,358.4 L448.5,360.5 L449.0,362.4 L449.5,364.0 L450.0,365.3 L450.5,366.0 L451.0,366.3 L451.5,366.0 L452.0,365.2 L452.5,364.0 L453.0,362.4 L453.5,360.5 L454.0,358.4 L454.5,356.3 L455.0,354.3 L455.5,352.4 L456.0,350.9 L456.5,350.4 L457.0,351.9 L457.5,353.9 L458.0,356.0 L458.5,358.2 L459.0,360.4 L459.5,362.5 L460.0,364.4 L460.5,365.9 L461.0,367.0 L461.5,367.5 L462.0,367.6 L462.5,367.1 L463.0,366.2 L463.5,364.9 L464.0,363.2 L464.5,361.4 L465.0,359.4 L465.5,357.5 L466.0,355.7 L466.5,354.1 L467.0,352.8 L467.5,353.4 L468.0,355.0 L468.5,356.8 L469.0,358.8 L469.5,360.9 L470.0,362.9 L470.5,364.8 L471.0,366.4 L471.5,367.7 L472.0,368.6 L472.5,368.9 L473.0,368.8 L473.5,368.1 L474.0,367.0 L474.5,365.5 L475.0,363.7 L475.5,361.7 L476.0,359.7 L476.5,357.7 L477.0,355.8 L477.5,354.2 L478.0,353.1 L478.5,354.5 L479.0,356.2 L479.5,358.1 L480.0,360.2 L480.5,362.3 L481.0,364.4 L481.5,366.3 L482.0,367.8 L482.5,369.0 L483.0,369.7 L483.5,369.9 L484.0,369.4 L484.5,368.4 L485.0,367.0 L485.5,365.2 L486.0,363.1 L486.5,360.9 L487.0,358.7 L487.5,356.5 L488.0,354.6 L488.5,353.0 L489.0,352.9 L489.5,354.5 L490.0,356.3 L490.5,358.4 L491.0,360.5 L491.5,362.6 L492.0,364.6 L492.5,366.3 L493.0,367.7 L493.5,368.6 L494.0,368.9 L494.5,368.7 L495.0,368.0 L495.5,366.9 L496.0,365.3 L496.5,363.4 L497.0,361.3 L497.5,359.1 L498.0,357.0 L498.5,355.0 L499.0,353.3 L499.5,351.9 L500.0,352.9 L500.5,354.5 L501.0,356.3 L501.5,358.3 L502.0,360.3 L502.5,362.2 L503.0,363.9 L503.5,365.3 L504.0,366.4 L504.5,367.0 L505.0,367.2 L505.5,366.8 L506.0,366.0 L506.5,364.8 L507.0,363.3 L507.5,361.5 L508.0,359.6 L508.5,357.6 L509.0,355.8 L509.5,354.0 L510.0,352.6 L510.5,352.0 L511.0,353.4 L511.5,355.0 L512.0,356.8 L512.5,358.7 L513.0,360.5 L513.5,362.3 L514.0,363.8 L514.5,365.0 L515.0,365.8 L515.5,366.3 L516.0,366.3 L516.5,365.8 L517.0,365.0 L517.5,363.8 L518.0,362.4 L518.5,360.8 L519.0,359.1 L519.5,357.4 L520.0,355.8 L520.5,354.5 L521.0,353.3 L521.5,353.7 L522.0,355.0 L522.5,356.5 L523.0,358.1 L523.5,359.8 L524.0,361.5 L524.5,363.0 L525.0,364.3 L525.5,365.4 L526.0,366.0 L526.5,366.3 L527.0,366.2 L527.5,365.7 L528.0,364.9 L528.5,363.7 L529.0,362.2 L529.5,360.5 L530.0,358.8 L530.5,357.1 L531.0,355.5 L531.5,354.1 L532.0,353.1 L532.5,354.3 L533.0,355.8 L533.5,357.5 L534.0,359.3 L534.5,361.2 L535.0,363.1 L535.5,364.8 L536.0,366.2 L536.5,367.3 L537.0,367.9 L537.5,368.1 L538.0,367.7 L538.5,366.9 L539.0,365.8 L539.5,364.3 L540.0,362.5 L540.5,360.7 L541.0,358.8 L541.5,357.1 L542.0,355.5 L542.5,354.1 L543.0,354.0 L543.5,355.3 L544.0,356.9 L544.5,358.6 L545.0,360.5 L545.5,362.3 L546.0,364.1 L546.5,365.6 L547.0,366.8 L547.5,367.7 L548.0,368.1 L548.5,368.0 L549.0,367.4 L549.5,366.4 L550.0,365.0 L550.5,363.3 L551.0,361.4 L551.5,359.5 L552.0,357.5 L552.5,355.7 L553.0,354.1 L553.5,352.8 L554.0,353.6 L554.5,355.0 L555.0,356.7 L555.5,358.5 L556.0,360.4 L556.5,362.2 L557.0,363.9 L557.5,365.3 L558.0,366.4 L558.5,367.0 L559.0,367.2 L559.5,366.9 L560.0,366.1 L560.5,364.9 L561.0,363.4 L561.5,361.6 L562.0,359.7 L562.5,357.7 L563.0,355.9 L563.5,354.1 L564.0,352.6 L564.5,351.9 L565.0,353.2 L565.5,354.7 L566.0,356.4 L566.5,358.2 L567.0,360.1 L567.5,361.8 L568.0,363.3 L568.5,364.5 L569.0,365.4 L569.5,365.8 L570.0,365.8 L570.5,365.4 L571.0,364.5 L571.5,363.2 L572.0,361.7 L572.5,359.9 L573.0,358.0 L573.5,356.1 L574.0,354.3 L574.5,352.7 L575.0,351.3 L575.5,351.7 L576.0,353.1 L576.5,354.7 L577.0,356.5 L577.5,358.4 L578.0,360.2 L578.5,361.9 L579.0,363.3 L579.5,364.4 L580.0,365.1 L580.5,365.4 L581.0,365.3 L581.5,364.7 L582.0,363.7 L582.5,362.4 L583.0,360.9 L583.5,359.2 L584.0,357.4 L584.5,355.7 L585.0,354.1 L585.5,352.8 L586.0,351.7 L586.5,352.8 L587.0,354.1 L587.5,355.6 L588.0,357.2 L588.5,359.0 L589.0,360.7 L589.5,362.3 L590.0,363.6 L590.5,364.6 L591.0,365.3 L591.5,365.4 L592.0,365.0 L592.5,364.1 L593.0,362.7 L593.5,361.0 L594.0,359.1 L594.5,357.0 L595.0,354.8 L595.5,352.7 L596.0,350.7 L596.5,349.0 L597.0,348.6 L597.5,350.0 L598.0,351.7 L598.5,353.6 L599.0,355.6 L599.5,357.6 L600.0,359.4 L600.5,361.1 L601.0,362.4 L601.5,363.2 L602.0,363.6 L602.5,363.5 L603.0,362.9 L603.5,361.9 L604.0,360.4 L604.5,358.5 L605.0,356.4 L605.5,354.2 L606.0,352.0 L606.5,349.8 L607.0,347.9 L607.5,346.3 L608.0,347.2 L608.5,349.0 L609.0,351.1 L609.5,353.3 L610.0,355.6 L610.5,357.7 L611.0,359.7 L611.5,361.3 L612.0,362.6 L612.5,363.3 L613.0,363.6 L613.5,363.4 L614.0,362.6 L614.5,361.5 L615.0,360.0 L615.5,358.2 L616.0,356.4 L616.5,354.4 L617.0,352.6 L617.5,351.0 L618.0,349.6 L618.5,348.9 L619.0,350.2 L619.5,351.8 L620.0,353.7 L620.5,355.6 L621.0,357.5 L621.5,359.4 L622.0,361.1 L622.5,362.4 L623.0,363.4 L623.5,364.0 L624.0,364.1 L624.5,363.7 L625.0,362.8 L625.5,361.6 L626.0,360.0 L626.5,358.2 L627.0,356.3 L627.5,354.4 L628.0,352.5 L628.5,350.9 L629.0,349.5 L629.5,349.7 L630.0,351.2 L630.5,352.9 L631.0,354.8 L631.5,356.8 L632.0,358.8 L632.5,360.7 L633.0,362.3 L633.5,363.5 L634.0,364.4 L634.5,364.8 L635.0,364.7 L635.5,364.0 L636.0,363.0 L636.5,361.5 L637.0,359.8 L637.5,357.9 L638.0,356.0 L638.5,354.0 L639.0,352.2 L639.5,350.7 L640.0,349.4 L640.5,350.6 L641.0,352.2 L641.5,354.0 L642.0,355.9 L642.5,357.9 L643.0,359.8 L643.5,361.5 L644.0,362.9 L644.5,364.0 L645.0,364.6 L645.5,364.8 L646.0,364.5 L646.5,363.7 L647.0,362.5 L647.5,360.9 L648.0,359.1 L648.5,357.2 L649.0,355.2 L649.5,353.3 L650.0,351.6 L650.5,350.2 L651.0,349.9 L651.5,351.3 L652.0,353.0 L652.5,354.9 L653.0,356.8 L653.5,358.8 L654.0,360.6 L654.5,362.2 L655.0,363.4 L655.5,364.3 L656.0,364.8 L656.5,364.8 L657.0,364.3 L657.5,363.5 L658.0,362.3 L658.5,360.7 L659.0,359.0 L659.5,357.2 L660.0,355.4 L660.5,353.8 L661.0,352.3 L661.5,351.1 L662.0,351.7 L662.5,353.1 L663.0,354.8 L663.5,356.7 L664.0,358.6 L664.5,360.6 L665.0,362.3 L665.5,363.9 L666.0,365.1 L666.5,365.9 L667.0,366.2 L667.5,366.0 L668.0,365.4 L668.5,364.2 L669.0,362.8 L669.5,361.0" stroke="#ff00ff" stroke-width="4.8"/>
</g>
<g font-family="Liberation Sans, sans-serif" font-size="15.5" fill="#000" stroke="#000" stroke-width="0.2" text-rendering="geometricPrecision"><text transform="translate(62.33,418.50) scale(1.2,1)">0</text><path transform="translate(117.36,418.50) scale(0.009082,-0.007568)" d="M761,0 H585 V1107 Q420,960 185,870 V1040 Q470,1160 640,1409 H761 Z"/><text transform="translate(127.70,418.50) scale(1.2,1)">0</text><text transform="translate(177.56,418.50) scale(1.2,1)">2</text><text transform="translate(187.90,418.50) scale(1.2,1)">0</text><text transform="translate(237.76,418.50) scale(1.2,1)">3</text><text transform="translate(248.10,418.50) scale(1.2,1)">0</text><text transform="translate(297.96,418.50) scale(1.2,1)">4</text><text transform="translate(308.30,418.50) scale(1.2,1)">0</text><text transform="translate(358.16,418.50) scale(1.2,1)">5</text><text transform="translate(368.50,418.50) scale(1.2,1)">0</text><text transform="translate(418.36,418.50) scale(1.2,1)">6</text><text transform="translate(428.70,418.50) scale(1.2,1)">0</text><text transform="translate(478.56,418.50) scale(1.2,1)">7</text><text transform="translate(488.90,418.50) scale(1.2,1)">0</text><text transform="translate(538.76,418.50) scale(1.2,1)">8</text><text transform="translate(549.10,418.50) scale(1.2,1)">0</text><text transform="translate(598.96,418.50) scale(1.2,1)">9</text><text transform="translate(609.30,418.50) scale(1.2,1)">0</text><path transform="translate(653.98,418.50) scale(0.009082,-0.007568)" d="M761,0 H585 V1107 Q420,960 185,870 V1040 Q470,1160 640,1409 H761 Z"/><text transform="translate(664.33,418.50) scale(1.2,1)">0</text><text transform="translate(674.67,418.50) scale(1.2,1)">0</text><text transform="translate(39.31,403.20) scale(1.2,1)">4</text><text transform="translate(49.66,403.20) scale(1.2,1)">0</text><text transform="translate(39.31,338.37) scale(1.2,1)">5</text><text transform="translate(49.66,338.37) scale(1.2,1)">0</text><text transform="translate(39.31,273.53) scale(1.2,1)">6</text><text transform="translate(49.66,273.53) scale(1.2,1)">0</text><text transform="translate(39.31,208.70) scale(1.2,1)">7</text><text transform="translate(49.66,208.70) scale(1.2,1)">0</text><text transform="translate(39.31,143.87) scale(1.2,1)">8</text><text transform="translate(49.66,143.87) scale(1.2,1)">0</text><text transform="translate(39.31,79.03) scale(1.2,1)">9</text><text transform="translate(49.66,79.03) scale(1.2,1)">0</text><path transform="translate(28.97,14.20) scale(0.009082,-0.007568)" d="M761,0 H585 V1107 Q420,960 185,870 V1040 Q470,1160 640,1409 H761 Z"/><text transform="translate(39.31,14.20) scale(1.2,1)">0</text><text transform="translate(49.66,14.20) scale(1.2,1)">0</text></g>
<text transform="translate(368,440.6) scale(1.2,1)" text-anchor="middle" font-family="Liberation Sans, sans-serif" font-size="17" fill="#000" stroke="#000" stroke-width="0.2" text-rendering="geometricPrecision">Time</text>
<text transform="translate(17.5,202.3) rotate(-90) scale(1,1.2)" text-anchor="middle" font-family="Liberation Sans, sans-serif" font-size="17" fill="#000" stroke="#000" stroke-width="0.2" text-rendering="geometricPrecision">Fish Population</text>
<rect x="504.5" y="20.3" width="149.6" height="78.0" fill="#fff" stroke="#484848" stroke-width="1"/>
<path d="M509.7,31.4 H565.5" stroke="#0000ff" stroke-width="4.4"/>
<text transform="translate(569.4,36.5) scale(1.19,1)" font-family="Liberation Sans, sans-serif" font-size="14" fill="#000" stroke="#000" stroke-width="0.2" text-rendering="geometricPrecision">Prey-I</text>
<path d="M509.7,50.0 H565.5" stroke="#ff0000" stroke-width="4.4"/>
<text transform="translate(569.4,55.1) scale(1.19,1)" font-family="Liberation Sans, sans-serif" font-size="14" fill="#000" stroke="#000" stroke-width="0.2" text-rendering="geometricPrecision">Prey-II</text>
<path d="M509.7,68.6 H565.5" stroke="#00ff00" stroke-width="4.4"/>
<text transform="translate(569.4,73.69999999999999) scale(1.19,1)" font-family="Liberation Sans, sans-serif" font-size="14" fill="#000" stroke="#000" stroke-width="0.2" text-rendering="geometricPrecision">Predator-I</text>
<path d="M509.7,87.2 H565.5" stroke="#ff00ff" stroke-width="4.4"/>
<text transform="translate(569.4,92.3) scale(1.19,1)" font-family="Liberation Sans, sans-serif" font-size="14" fill="#000" stroke="#000" stroke-width="0.2" text-rendering="geometricPrecision">Predator-II</text>
</svg>
</body></html>
